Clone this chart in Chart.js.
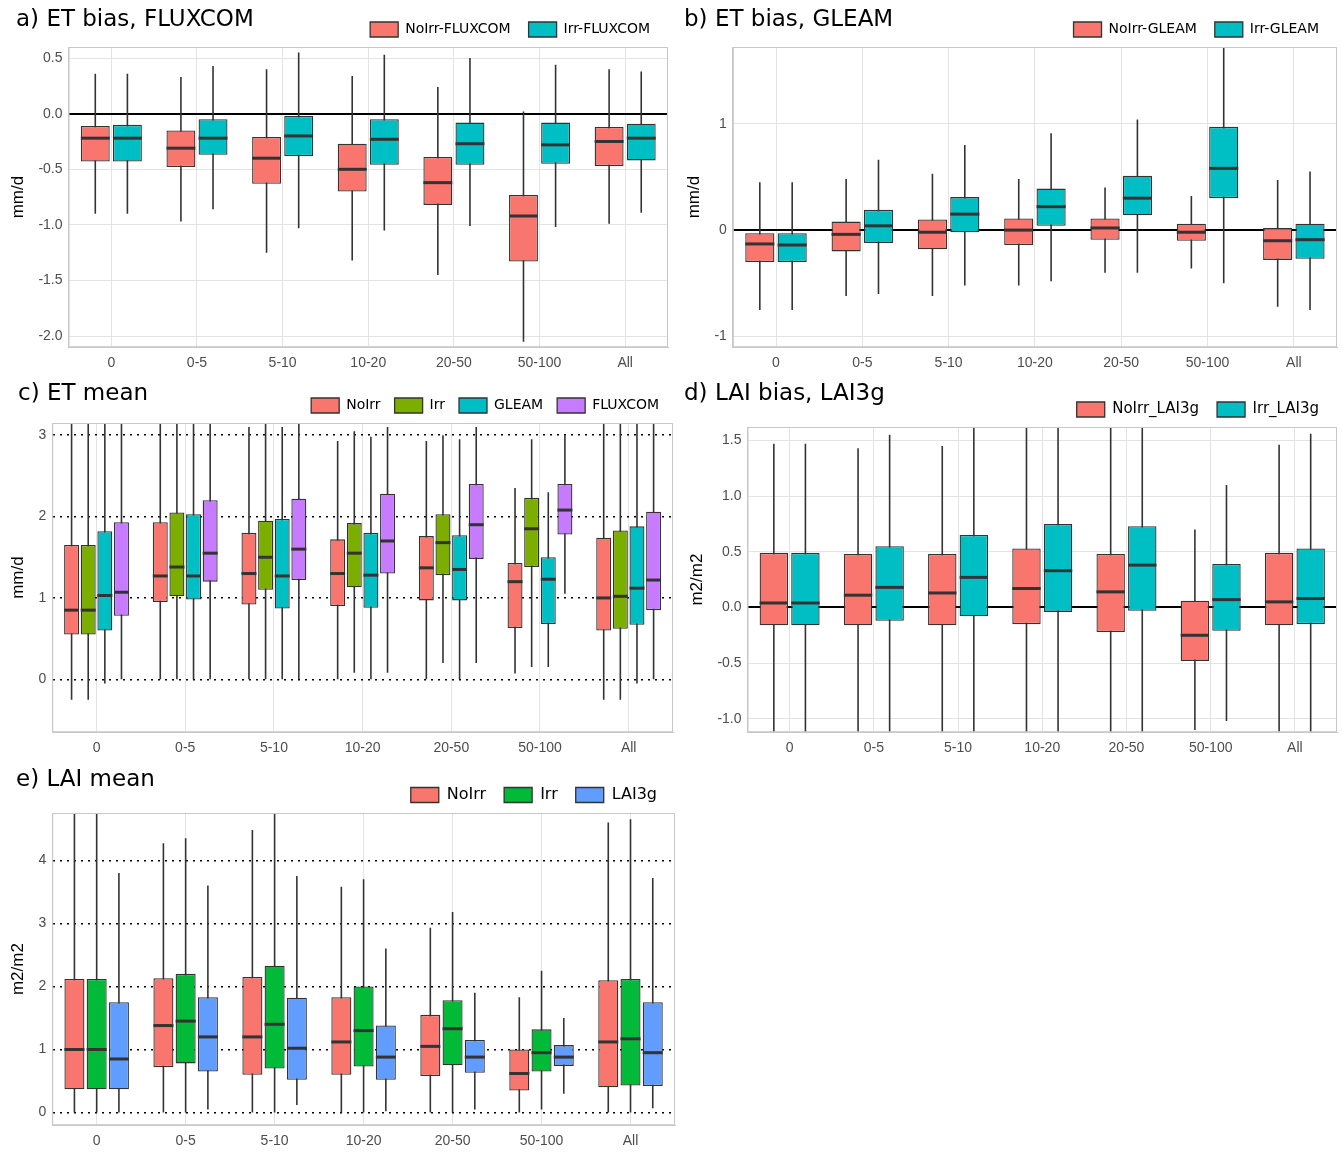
<!DOCTYPE html>
<html><head><meta charset="utf-8">
<script src="https://cdn.jsdelivr.net/npm/chart.js@4"></script>
<style>
body{margin:0;background:#fff;width:1343px;height:1158px;position:relative;font-family:"DejaVu Sans",sans-serif;overflow:hidden}
.p{position:absolute}
.t{position:absolute;font-size:23px;color:#000;z-index:2;background:transparent}
</style></head><body>
<div class="p" style="left:0;top:0;width:672px;height:380px"><canvas id="ca"></canvas></div>
<div class="p" style="left:672px;top:0;width:671px;height:380px"><canvas id="cb"></canvas></div>
<div class="p" style="left:0;top:380px;width:675px;height:385px"><canvas id="cc"></canvas></div>
<div class="p" style="left:675px;top:380px;width:668px;height:385px"><canvas id="cd"></canvas></div>
<div class="p" style="left:0;top:765px;width:677px;height:393px"><canvas id="ce"></canvas></div>
<div class="t" style="left:16px;top:5px">a) ET bias, FLUXCOM</div>
<div class="t" style="left:684px;top:5px">b) ET bias, GLEAM</div>
<div class="t" style="left:18px;top:379px">c) ET mean</div>
<div class="t" style="left:684px;top:379px">d) LAI bias, LAI3g</div>
<div class="t" style="left:16px;top:765px">e) LAI mean</div>
<script>
const categories=["0","0-5","5-10","10-20","20-50","50-100","All"];
// each entry: [min, q1, median, q3, max]
const aNoIrr=[[-0.9,-0.43,-0.22,-0.11,0.36],[-0.97,-0.48,-0.31,-0.15,0.33],[-1.25,-0.63,-0.4,-0.21,0.4],[-1.32,-0.7,-0.5,-0.27,0.34],[-1.45,-0.82,-0.62,-0.39,0.24],[-2.05,-1.33,-0.92,-0.73,0.02],[-0.99,-0.47,-0.25,-0.12,0.4]];
const aIrr=[[-0.9,-0.43,-0.22,-0.1,0.36],[-0.86,-0.37,-0.22,-0.05,0.43],[-1.03,-0.38,-0.2,-0.02,0.55],[-1.05,-0.46,-0.23,-0.05,0.53],[-1.01,-0.46,-0.27,-0.08,0.5],[-1.02,-0.45,-0.28,-0.08,0.44],[-0.89,-0.42,-0.22,-0.09,0.38]];
const bNoIrr=[[-0.75,-0.3,-0.13,-0.03,0.45],[-0.62,-0.2,-0.04,0.08,0.48],[-0.62,-0.18,-0.02,0.1,0.53],[-0.52,-0.14,0.0,0.11,0.48],[-0.4,-0.09,0.02,0.11,0.4],[-0.36,-0.1,-0.02,0.06,0.32],[-0.72,-0.28,-0.1,0.02,0.47]];
const bIrr=[[-0.75,-0.3,-0.14,-0.03,0.45],[-0.6,-0.12,0.04,0.19,0.66],[-0.52,-0.02,0.15,0.31,0.8],[-0.48,0.04,0.22,0.39,0.91],[-0.4,0.14,0.3,0.51,1.04],[-0.5,0.3,0.58,0.97,1.72],[-0.75,-0.27,-0.09,0.06,0.55]];
const cNoIrr=[[-0.25,0.55,0.85,1.65,3.15],[0,0.95,1.27,1.93,3.15],[0,0.92,1.3,1.8,3.1],[0,0.9,1.3,1.72,2.93],[0,0.97,1.37,1.76,2.93],[0.07,0.63,1.2,1.43,2.35],[-0.25,0.6,1.0,1.74,3.15]];
const cIrr=[[-0.25,0.55,0.85,1.65,3.15],[0,1.02,1.38,2.05,3.15],[0,1.1,1.5,1.95,3.15],[0.08,1.13,1.55,1.92,3.05],[0.2,1.28,1.68,2.03,3.0],[0.15,1.38,1.85,2.23,2.95],[-0.25,0.62,1.02,1.83,3.15]];
const cGLEAM=[[-0.05,0.6,1.03,1.82,3.15],[0,0.98,1.27,2.03,3.15],[0,0.87,1.27,1.97,3.1],[0,0.88,1.28,1.8,2.98],[0,0.97,1.35,1.77,2.95],[0.15,0.68,1.23,1.5,2.3],[-0.05,0.67,1.12,1.88,3.15]];
const cFLUXCOM=[[0,0.78,1.07,1.93,3.15],[0,1.2,1.55,2.2,3.15],[0,1.22,1.6,2.22,3.15],[0.08,1.3,1.7,2.28,3.1],[0.2,1.48,1.9,2.4,3.1],[1.05,1.78,2.08,2.4,3.0],[0,0.85,1.22,2.06,3.15]];
const dNoIrr=[[-1.12,-0.16,0.04,0.49,1.47],[-1.12,-0.16,0.11,0.48,1.43],[-1.12,-0.16,0.13,0.48,1.45],[-1.12,-0.15,0.17,0.53,1.62],[-1.12,-0.22,0.14,0.48,1.62],[-1.1,-0.48,-0.25,0.06,0.7],[-1.12,-0.16,0.05,0.49,1.46]];
const dIrr=[[-1.12,-0.16,0.04,0.49,1.47],[-1.12,-0.12,0.18,0.55,1.55],[-1.12,-0.08,0.27,0.65,1.62],[-1.12,-0.04,0.33,0.75,1.62],[-1.12,-0.03,0.38,0.73,1.62],[-1.02,-0.21,0.07,0.39,1.1],[-1.12,-0.15,0.08,0.53,1.56]];
const eNoIrr=[[0,0.37,1.0,2.12,4.75],[0,0.72,1.38,2.13,4.27],[0,0.6,1.2,2.15,4.48],[0,0.6,1.12,1.83,3.58],[0,0.58,1.05,1.55,2.93],[0,0.35,0.62,1.0,1.83],[0,0.4,1.12,2.1,4.6]];
const eIrr=[[0,0.37,1.0,2.12,4.75],[0,0.78,1.45,2.2,4.35],[0,0.7,1.4,2.33,4.75],[0,0.73,1.3,2.0,3.7],[0,0.75,1.33,1.78,3.18],[0.05,0.65,0.95,1.32,2.25],[0,0.43,1.17,2.12,4.65]];
const eLAI3g=[[0,0.37,0.85,1.75,3.8],[0.05,0.65,1.2,1.83,3.6],[0.12,0.52,1.02,1.82,3.75],[0.02,0.52,0.88,1.38,2.6],[0.05,0.63,0.88,1.15,1.9],[0.3,0.74,0.88,1.07,1.5],[0.07,0.42,0.95,1.75,3.72]];

const RED="#F8766D",CYAN="#00BFC4",OLIVE="#7CAE00",PURPLE="#C77CFF",GREEN="#00BA38",BLUE="#619CFF";
const EDGE="#333333";

const boxPlugin={id:'box',
 beforeDatasetsDraw(chart){
  const ctx=chart.ctx,y=chart.scales.y,a=chart.chartArea;
  ctx.save();ctx.beginPath();ctx.rect(a.left,a.top,a.right-a.left,a.bottom-a.top);ctx.clip();
  ctx.strokeStyle=EDGE;ctx.lineWidth=1.6;
  chart.data.datasets.forEach((ds,di)=>{
   chart.getDatasetMeta(di).data.forEach((el,i)=>{
    const s=ds.stats[i];ctx.beginPath();
    ctx.moveTo(el.x,y.getPixelForValue(s[0]));ctx.lineTo(el.x,y.getPixelForValue(s[4]));ctx.stroke();
   });
  });
  ctx.restore();
 },
 afterDatasetsDraw(chart){
  const ctx=chart.ctx,y=chart.scales.y,a=chart.chartArea;
  ctx.save();ctx.strokeStyle=EDGE;ctx.lineWidth=3;
  chart.data.datasets.forEach((ds,di)=>{
   chart.getDatasetMeta(di).data.forEach((el,i)=>{
    const s=ds.stats[i],py=y.getPixelForValue(s[2]);
    ctx.beginPath();ctx.moveTo(el.x-el.width/2,py);ctx.lineTo(el.x+el.width/2,py);ctx.stroke();
   });
  });
  ctx.strokeStyle='#c8c8c8';ctx.lineWidth=1;
  ctx.strokeRect(a.left+0.5,a.top+0.5,a.right-a.left-1,a.bottom-a.top-1);
  ctx.restore();
 }};

function mk(id,series,opt){
 const datasets=series.map(([label,color,stats])=>({label,stats,backgroundColor:color,borderColor:EDGE,borderWidth:1.3,borderSkipped:false,
   data:stats.map(s=>[s[1],s[3]]),barPercentage:0.9,categoryPercentage:0.75}));
 const dotted=opt.dotted;
 new Chart(document.getElementById(id),{type:'bar',data:{labels:categories,datasets},plugins:[boxPlugin],
 options:{responsive:true,maintainAspectRatio:false,animation:false,
  layout:{padding:opt.pad},
  plugins:{tooltip:{enabled:false},
   legend:{position:'top',align:'end',labels:{boxWidth:28,boxHeight:15,color:'#000',font:{size:opt.lf||14,family:'DejaVu Sans'},padding:opt.lp||18}}},
  scales:{
   x:{grid:{offset:false,color:'#e3e3e3',drawTicks:false},border:{color:'#c8c8c8'},
      ticks:{color:'#4d4d4d',font:{size:14},padding:8}},
   y:{min:opt.min,max:opt.max,afterBuildTicks:(s)=>{s.ticks=opt.ticks.map(v=>({value:v}));},
      title:{display:true,text:opt.yt,color:'#000',font:{size:17}},
      border:{color:'#c8c8c8',dash:dotted?[2,5]:[]},
      grid:{drawTicks:false,
        color:(c)=>dotted?'#000':(c.tick&&c.tick.value===0?'#000':'#e3e3e3'),
        lineWidth:(c)=>dotted?1.6:(c.tick&&c.tick.value===0?2:1)},
      ticks:{color:'#4d4d4d',font:{size:14},padding:6,callback:(v)=>opt.fmt?opt.fmt(v):v}}
  }}});
}
const f1=v=>v.toFixed(1);
mk('ca',[["NoIrr-FLUXCOM",RED,aNoIrr],["Irr-FLUXCOM",CYAN,aIrr]],{min:-2.1,max:0.6,ticks:[-2,-1.5,-1,-0.5,0,0.5],yt:'mm/d',fmt:f1,pad:{left:4,right:4,top:4,bottom:0}});
mk('cb',[["NoIrr-GLEAM",RED,bNoIrr],["Irr-GLEAM",CYAN,bIrr]],{min:-1.1,max:1.72,ticks:[-1,0,1],yt:'mm/d',pad:{left:8,right:6,top:4,bottom:0}});
mk('cc',[["NoIrr",RED,cNoIrr],["Irr",OLIVE,cIrr],["GLEAM",CYAN,cGLEAM],["FLUXCOM",PURPLE,cFLUXCOM]],{min:-0.65,max:3.15,ticks:[0,1,2,3],yt:'mm/d',dotted:true,lp:14,pad:{left:4,right:2,top:4,bottom:0}});
mk('cd',[["NoIrr_LAI3g",RED,dNoIrr],["Irr_LAI3g",CYAN,dIrr]],{min:-1.12,max:1.62,ticks:[-1,-0.5,0,0.5,1,1.5],yt:'m2/m2',fmt:f1,lf:15,pad:{left:8,right:6,top:4,bottom:0}});
mk('ce',[["NoIrr",RED,eNoIrr],["Irr",GREEN,eIrr],["LAI3g",BLUE,eLAI3g]],{min:-0.2,max:4.75,ticks:[0,1,2,3,4],yt:'m2/m2',dotted:true,lf:16,pad:{left:4,right:2,top:4,bottom:0}});
</script></body></html>
